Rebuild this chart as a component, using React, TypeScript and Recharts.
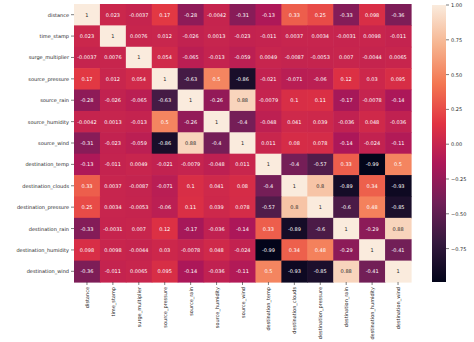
import { ScatterChart, Scatter, XAxis, YAxis, BarChart, Bar } from "recharts";

const LABELS = [
  "distance",
  "time_stamp",
  "surge_multiplier",
  "source_pressure",
  "source_rain",
  "source_humidity",
  "source_wind",
  "destination_temp",
  "destination_clouds",
  "destination_pressure",
  "destination_rain",
  "destination_humidity",
  "destination_wind",
];

// correlation rows, same order as LABELS
const DISTANCE = [1, 0.023, -0.0037, 0.17, -0.28, -0.0042, -0.31, -0.13, 0.33, 0.25, -0.33, 0.098, -0.36];
const TIME_STAMP = [0.023, 1, 0.0076, 0.012, -0.026, 0.0013, -0.023, -0.011, 0.0037, 0.0034, -0.0031, 0.0098, -0.011];
const SURGE_MULTIPLIER = [-0.0037, 0.0076, 1, 0.054, -0.065, -0.013, -0.059, 0.0049, -0.0087, -0.0053, 0.007, -0.0044, 0.0065];
const SOURCE_PRESSURE = [0.17, 0.012, 0.054, 1, -0.63, 0.5, -0.86, -0.021, -0.071, -0.06, 0.12, 0.03, 0.095];
const SOURCE_RAIN = [-0.28, -0.026, -0.065, -0.63, 1, -0.26, 0.88, -0.0079, 0.1, 0.11, -0.17, -0.0078, -0.14];
const SOURCE_HUMIDITY = [-0.0042, 0.0013, -0.013, 0.5, -0.26, 1, -0.4, -0.048, 0.041, 0.039, -0.036, 0.048, -0.036];
const SOURCE_WIND = [-0.31, -0.023, -0.059, -0.86, 0.88, -0.4, 1, 0.011, 0.08, 0.078, -0.14, -0.024, -0.11];
const DEST_TEMP = [-0.13, -0.011, 0.0049, -0.021, -0.0079, -0.048, 0.011, 1, -0.4, -0.57, 0.33, -0.99, 0.5];
const DEST_CLOUDS = [0.33, 0.0037, -0.0087, -0.071, 0.1, 0.041, 0.08, -0.4, 1, 0.8, -0.89, 0.34, -0.93];
const DEST_PRESSURE = [0.25, 0.0034, -0.0053, -0.06, 0.11, 0.039, 0.078, -0.57, 0.8, 1, -0.6, 0.48, -0.85];
const DEST_RAIN = [-0.33, -0.0031, 0.007, 0.12, -0.17, -0.036, -0.14, 0.33, -0.89, -0.6, 1, -0.29, 0.88];
const DEST_HUMIDITY = [0.098, 0.0098, -0.0044, 0.03, -0.0078, 0.048, -0.024, -0.99, 0.34, 0.48, -0.29, 1, -0.41];
const DEST_WIND = [-0.36, -0.011, 0.0065, 0.095, -0.14, -0.036, -0.11, 0.5, -0.93, -0.85, 0.88, -0.41, 1];

const MATRIX = [
  DISTANCE, TIME_STAMP, SURGE_MULTIPLIER, SOURCE_PRESSURE, SOURCE_RAIN, SOURCE_HUMIDITY, SOURCE_WIND,
  DEST_TEMP, DEST_CLOUDS, DEST_PRESSURE, DEST_RAIN, DEST_HUMIDITY, DEST_WIND,
];

const COLORBAR_TICKS = [-0.75, -0.5, -0.25, 0, 0.25, 0.5, 0.75, 1];

// seaborn "rocket"
const ROCKET = ["#03051a", "#35193e", "#701f57", "#ad1759", "#e13342", "#f37651", "#f6b48f", "#faebdd"];
const ROCKET_POS = [0, 1 / 7, 2 / 7, 3 / 7, 4 / 7, 5 / 7, 6 / 7, 1];

const VMIN = Math.min(...MATRIX.flat());
const VMAX = Math.max(...MATRIX.flat());

const W = 474;
const H = 342;
const M = { top: 4, right: 63, bottom: 0, left: 0 };
const Y_AXIS_W = 74;
const X_AXIS_H = 60;
const N = LABELS.length;
const CELL_W = (W - M.left - M.right - Y_AXIS_W) / N;
const CELL_H = (H - M.top - M.bottom - X_AXIS_H) / N;

const FONT = "DejaVu Sans, sans-serif";
const FS = 5;
const INK = "#262626";

const hex = (c: string) => [1, 3, 5].map((i) => parseInt(c.slice(i, i + 2), 16));

function rocket(t: number): number[] {
  const p = Math.max(0, Math.min(1, t));
  let i = 0;
  while (i < ROCKET_POS.length - 2 && p > ROCKET_POS[i + 1]) i++;
  const f = (p - ROCKET_POS[i]) / (ROCKET_POS[i + 1] - ROCKET_POS[i]);
  const a = hex(ROCKET[i]);
  const b = hex(ROCKET[i + 1]);
  return a.map((v, k) => Math.round(v + (b[k] - v) * f));
}

const rgb = (c: number[]) => `rgb(${c[0]},${c[1]},${c[2]})`;

function lum(c: number[]) {
  const lin = c.map((v) => {
    const s = v / 255;
    return s <= 0.03928 ? s / 12.92 : Math.pow((s + 0.055) / 1.055, 2.4);
  });
  return 0.2126 * lin[0] + 0.7152 * lin[1] + 0.0722 * lin[2];
}

const fmt = (v: number) => String(Number(v.toPrecision(2)));
const fmtBar = (v: number) => (v < 0 ? "\u2212" : "") + Math.abs(v).toFixed(2);

const cells = MATRIX.flatMap((row, r) => row.map((v, c) => ({ x: c + 0.5, y: r + 0.5, v })));
const centers = LABELS.map((_, i) => i + 0.5);

function CellShape(props: any) {
  const { cx, cy, payload } = props;
  const col = rocket((payload.v - VMIN) / (VMAX - VMIN));
  const textFill = lum(col) > 0.408 ? INK : "#ffffff";
  return (
    <g>
      <rect x={cx - CELL_W / 2} y={cy - CELL_H / 2} width={CELL_W + 0.6} height={CELL_H + 0.6} fill={rgb(col)} />
      <text x={cx} y={cy} textAnchor="middle" dominantBaseline="central" fontFamily={FONT} fontSize={FS} fill={textFill}>
        {fmt(payload.v)}
      </text>
    </g>
  );
}

function XTick(props: any) {
  const { x, y, payload } = props;
  return (
    <g transform={`translate(${x},${y})`}>
      <line x1={0} y1={0} x2={0} y2={3} stroke={INK} strokeWidth={0.6} />
      <text transform="rotate(-90)" x={-5} y={0} textAnchor="end" dominantBaseline="central" fontFamily={FONT} fontSize={FS} fill={INK}>
        {LABELS[Math.floor(payload.value)]}
      </text>
    </g>
  );
}

function YTick(props: any) {
  const { x, y, payload } = props;
  return (
    <g transform={`translate(${x},${y})`}>
      <line x1={-3} y1={0} x2={0} y2={0} stroke={INK} strokeWidth={0.6} />
      <text x={-5} y={0} textAnchor="end" dominantBaseline="central" fontFamily={FONT} fontSize={FS} fill={INK}>
        {LABELS[Math.floor(payload.value)]}
      </text>
    </g>
  );
}

function BarTick(props: any) {
  const { x, y, payload } = props;
  return (
    <g transform={`translate(${x},${y})`}>
      <line x1={0} y1={0} x2={3} y2={0} stroke={INK} strokeWidth={0.6} />
      <text x={5} y={0} textAnchor="start" dominantBaseline="central" fontFamily={FONT} fontSize={FS} fill={INK}>
        {fmtBar(payload.value)}
      </text>
    </g>
  );
}

const colorbarData = [{ name: "cb", range: [VMIN, VMAX] }];

export default function App() {
  return (
    <div style={{ position: "absolute", left: 0, top: 0, width: W, height: H, background: "#fff" }}>
      <div style={{ position: "absolute", left: 0, top: 0 }}>
        <ScatterChart width={W} height={H} margin={M}>
          <XAxis
            type="number"
            dataKey="x"
            domain={[0, N]}
            ticks={centers}
            interval={0}
            axisLine={false}
            tickLine={false}
            tickSize={0}
            tickMargin={0}
            height={X_AXIS_H}
            tick={<XTick />}
          />
          <YAxis
            type="number"
            dataKey="y"
            domain={[0, N]}
            reversed
            ticks={centers}
            interval={0}
            axisLine={false}
            tickLine={false}
            tickSize={0}
            tickMargin={0}
            width={Y_AXIS_W}
            tick={<YTick />}
          />
          <Scatter data={cells} shape={<CellShape />} isAnimationActive={false} />
        </ScatterChart>
      </div>
      <div style={{ position: "absolute", left: 432, top: 0 }}>
        <BarChart width={50} height={H} data={colorbarData} margin={{ top: 5, right: 0, bottom: 60, left: 0 }} barCategoryGap={0}>
          <defs>
            <linearGradient id="rocketGrad" x1="0" y1="1" x2="0" y2="0">
              {ROCKET.map((c, i) => (
                <stop key={i} offset={ROCKET_POS[i]} stopColor={c} />
              ))}
            </linearGradient>
          </defs>
          <XAxis dataKey="name" hide />
          <YAxis
            orientation="right"
            type="number"
            domain={[VMIN, VMAX]}
            ticks={COLORBAR_TICKS}
            interval={0}
            axisLine={false}
            tickLine={false}
            tickSize={0}
            tickMargin={0}
            width={36}
            tick={<BarTick />}
          />
          <Bar dataKey="range" fill="url(#rocketGrad)" isAnimationActive={false} />
        </BarChart>
      </div>
    </div>
  );
}
